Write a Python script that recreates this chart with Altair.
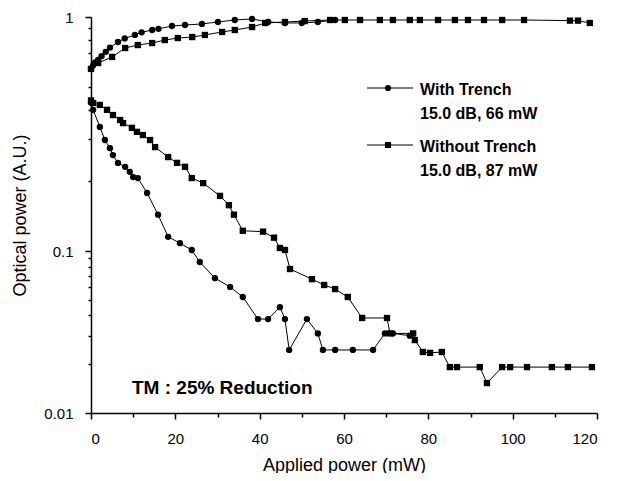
import altair as alt
import pandas as pd

# With Trench (circles)
with_up_x = [0, 0.5, 1.0, 1.7, 2.5, 3.5, 4.5, 6.4, 8.0, 10.4, 12.0, 14.5, 16.0, 19.2, 22.3, 26.3, 30.1, 34.1, 38.2, 42.0, 46.0, 50.0, 53.8, 57.9]
with_up_y = [0.60, 0.62, 0.64, 0.655, 0.68, 0.71, 0.74, 0.782, 0.81, 0.838, 0.86, 0.88, 0.89, 0.915, 0.924, 0.934, 0.952, 0.971, 0.981, 0.952, 0.943, 0.943, 0.952, 0.971]
with_low_x = [0, 0.5, 2.1, 3.3, 4.5, 5.2, 6.4, 8.1, 9.2, 10.0, 11.1, 13.3, 15.9, 18.3, 21.1, 23.9, 25.8, 29.4, 33.0, 36.0,
              39.6, 42.0, 44.8, 46.0, 47.0, 51.2, 53.8, 55.0, 57.9, 62.1, 66.9, 69.7, 71.6, 75.6]
with_low_y = [0.43, 0.401, 0.339, 0.298, 0.275, 0.257, 0.238, 0.229, 0.218, 0.207, 0.205, 0.177, 0.143, 0.115, 0.108, 0.101, 0.0855, 0.068, 0.060, 0.052,
              0.038, 0.038, 0.045, 0.038, 0.0245, 0.038, 0.031, 0.0245, 0.0245, 0.0245, 0.0245, 0.031, 0.031, 0.030]

# Without Trench (squares)
without_up_x = [0, 1.7, 5.0, 8.1, 11.1, 14.5, 17.5, 20.6, 24.0, 27.0, 31.1, 34.1, 38.2, 41.3, 46.0, 50.7, 56.7, 60.2, 63.8, 68.5,
                71.6, 75.6, 78.0, 82.3, 86.3, 89.4, 93.2, 97.5, 102.7, 113.6, 115.5, 118.3]
without_up_y = [0.60, 0.636, 0.675, 0.737, 0.759, 0.774, 0.797, 0.813, 0.821, 0.838, 0.863, 0.88, 0.906, 0.943, 0.952, 0.961, 0.971, 0.971, 0.971, 0.971,
                0.971, 0.971, 0.971, 0.971, 0.971, 0.971, 0.971, 0.971, 0.971, 0.965, 0.965, 0.943]
without_low_x = [0, 0.5, 2.1, 3.8, 5.2, 6.9, 7.6, 9.7, 10.9, 12.3, 14.0, 15.2, 18.3, 20.4, 22.3, 23.9, 26.6, 30.6, 32.7, 33.9,
                 36.0, 40.8, 43.4, 44.8, 46.0, 47.2, 52.4, 55.3, 57.9, 60.9, 64.3, 70.2, 70.9, 76.4, 76.8, 78.7, 80.4, 83.2, 85.1, 86.8,
                 92.2, 93.9, 97.5, 99.4, 103.4, 109.3, 113.1, 118.8]
without_low_y = [0.44, 0.429, 0.421, 0.401, 0.381, 0.363, 0.352, 0.336, 0.323, 0.313, 0.298, 0.278, 0.252, 0.238, 0.229, 0.205, 0.195, 0.172, 0.157, 0.143,
                 0.122, 0.121, 0.114, 0.103, 0.101, 0.0774, 0.067, 0.0617, 0.0582, 0.052, 0.0386, 0.0386, 0.031, 0.031, 0.0282, 0.0238, 0.0235, 0.0238, 0.0192, 0.0192,
                 0.0192, 0.0153, 0.0192, 0.0192, 0.0192, 0.0192, 0.0192, 0.0192]

series_names = ["With Trench", "Without Trench"]
legend_lines = [["With Trench", "15.0 dB, 66 mW"], ["Without Trench", "15.0 dB, 87 mW"]]
x_ticks = [0, 20, 40, 60, 80, 100, 120]
x_minor = [10, 30, 50, 70, 90, 110]
y_ticks = [0.01, 0.1, 1]
y_minor = [0.02, 0.03, 0.04, 0.05, 0.06, 0.07, 0.08, 0.09, 0.2, 0.3, 0.4, 0.5, 0.6, 0.7, 0.8, 0.9]
annotation = "TM : 25% Reduction"

rows = []
for s, b, xs, ys in [
    (series_names[0], "up", with_up_x, with_up_y),
    (series_names[0], "low", with_low_x, with_low_y),
    (series_names[1], "up", without_up_x, without_up_y),
    (series_names[1], "low", without_low_x, without_low_y),
]:
    for i, (xv, yv) in enumerate(zip(xs, ys)):
        rows.append({"x": xv, "y": yv, "series": s, "key": s + "-" + b, "order": i})
df = pd.DataFrame(rows)

FONT = "Liberation Sans"
W, H = 506, 396

xscale = alt.Scale(domain=[0, 120], nice=False, zero=False)
yscale = alt.Scale(type="log", domain=[0.01, 0.1, 1], range=[H, 234, 0], nice=False)

x_major = alt.Axis(values=x_ticks, title="Applied power (mW)", tickSize=6, tickWidth=1.5,
                   labelPadding=12, titlePadding=10, labelFontSize=15, titleFontSize=18,
                   labelFont=FONT, titleFont=FONT, domainWidth=1.5, domainColor="black",
                   tickColor="black", labelColor="black", titleColor="black", grid=False,
                   labelFontWeight="normal", titleFontWeight="normal", orient="bottom")
y_major = alt.Axis(values=y_ticks, format="~g", title="Optical power (A.U.)", tickSize=6, tickWidth=1.5,
                   labelPadding=12, titlePadding=14, labelFontSize=15, titleFontSize=18,
                   labelFont=FONT, titleFont=FONT, domainWidth=1.5, domainColor="black",
                   tickColor="black", labelColor="black", titleColor="black", grid=False,
                   labelFontWeight="normal", titleFontWeight="normal", orient="left")
x_min_ax = alt.Axis(values=x_minor, labels=False, title=None, domain=False, tickSize=4,
                    tickWidth=1.5, tickColor="black", grid=False, orient="bottom")
y_min_ax = alt.Axis(values=y_minor, labels=False, title=None, domain=False, tickSize=3,
                    tickWidth=1.5, tickColor="black", grid=False, orient="left")

base = alt.Chart(df)

lines = base.mark_line(color="black", strokeWidth=1).encode(
    x=alt.X("x:Q", scale=xscale, axis=x_major),
    y=alt.Y("y:Q", scale=yscale, axis=y_major),
    detail="key:N",
    order="order:Q",
)
points = base.mark_point(filled=True, color="black", size=40, opacity=1).encode(
    x=alt.X("x:Q", scale=xscale, axis=None),
    y=alt.Y("y:Q", scale=yscale, axis=None),
    shape=alt.Shape("series:N", scale=alt.Scale(domain=series_names, range=["circle", "square"]), legend=None),
)
minor = base.mark_point(opacity=0).encode(
    x=alt.X("x:Q", scale=xscale, axis=x_min_ax),
    y=alt.Y("y:Q", scale=yscale, axis=y_min_ax),
)

# legend drawn manually
leg_layers = []
shapes = ["circle", "square"]
for i, (l1, l2) in enumerate(legend_lines):
    y0 = 71 + i * 57
    one = pd.DataFrame({"a": [0]})
    leg_layers.append(alt.Chart(one).mark_rule(color="black", strokeWidth=1).encode(
        x=alt.value(276), x2=alt.value(322), y=alt.value(y0)))
    leg_layers.append(alt.Chart(one).mark_point(filled=True, color="black", size=38, opacity=1,
                                                shape=shapes[i]).encode(
        x=alt.value(297), y=alt.value(y0)))
    leg_layers.append(alt.Chart(one).mark_text(text=l1, font=FONT, fontSize=16, fontWeight="bold",
                                               align="left", baseline="middle", color="black").encode(
        x=alt.value(329), y=alt.value(y0 + 2)))
    leg_layers.append(alt.Chart(one).mark_text(text=l2, font=FONT, fontSize=16, fontWeight="bold",
                                               align="left", baseline="middle", color="black").encode(
        x=alt.value(329), y=alt.value(y0 + 26)))

tm = alt.Chart(pd.DataFrame({"a": [0]})).mark_text(text=annotation, font=FONT, fontSize=19, fontWeight="bold",
                                                    align="left", baseline="middle", color="black").encode(
    x=alt.value(41), y=alt.value(371))

chart = alt.layer(lines, points, minor, *leg_layers, tm).resolve_axis(
    x="independent", y="independent"
).properties(
    width=W, height=H,
    autosize=alt.AutoSizeParams(type="none"),
    padding={"left": 83, "top": 9, "right": 19, "bottom": 60},
    background="white",
).configure_view(stroke=None)

chart.save("out.html", embed_options={"renderer": "svg", "actions": False})
